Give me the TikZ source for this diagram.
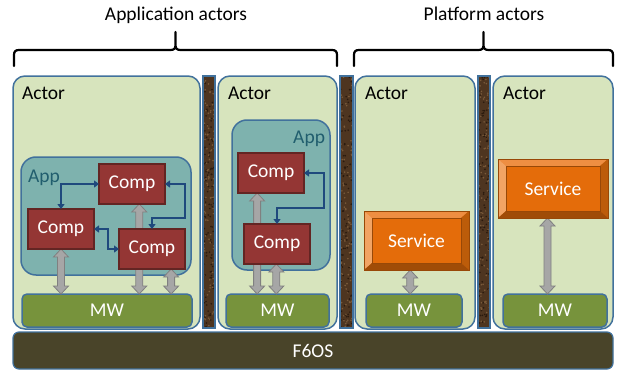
\documentclass[tikz,border=0pt]{standalone}
\usepackage{fontspec}
\setmainfont{Carlito}
\usetikzlibrary{calc,arrows.meta}
\pgfdeclarelayer{bg}
\pgfdeclarelayer{ar}
\pgfsetlayers{bg,ar,main}
\definecolor{actorfill}{HTML}{D7E4BD}
\definecolor{boxline}{HTML}{41719C}
\definecolor{appfill}{HTML}{7EB2AE}
\definecolor{applabel}{HTML}{215E6E}
\definecolor{compfill}{HTML}{943634}
\definecolor{compline}{HTML}{632523}
\definecolor{mwfill}{HTML}{77933C}
\definecolor{osfill}{HTML}{494429}
\definecolor{garrowfill}{HTML}{A6A6A6}
\definecolor{garrowline}{HTML}{808080}
\definecolor{bconn}{HTML}{1F497D}
\definecolor{sepfill}{HTML}{4E3520}
\definecolor{sepdotA}{HTML}{7A5A3A}
\definecolor{sepdotB}{HTML}{2A1A0E}
\definecolor{svcmid}{HTML}{E46C0A}
\definecolor{svctop}{HTML}{EE8E42}
\definecolor{svcleft}{HTML}{F2A464}
\definecolor{svcright}{HTML}{BC5C0A}
\definecolor{svcbot}{HTML}{A04C07}
\definecolor{svcline}{HTML}{984807}
\newcommand\grayarrow[2]{%
  \path[garrow] let \p1=#1, \p2=#2 in
  (\x1,\y1) -- (\x1+7.5pt,\y1-8pt) -- (\x1+3.5pt,\y1-8pt) -- (\x1+3.5pt,\y2+8pt)
  -- (\x1+7.5pt,\y2+8pt) -- (\x1,\y2) -- (\x1-7.5pt,\y2+8pt) -- (\x1-3.5pt,\y2+8pt)
  -- (\x1-3.5pt,\y1-8pt) -- (\x1-7.5pt,\y1-8pt) -- cycle;}
\newcommand\bracketline[3]{%
  \draw[bracketstyle] (#1,66) -- (#1,55) .. controls (#1,51.5) and ({#1+1.5},50) .. ({#1+5},50)
  -- ({#3-5},50) .. controls ({#3-1.5},50) and (#3,48.5) .. (#3,45) -- (#3,32)
  (#3,45) .. controls (#3,48.5) and ({#3+1.5},50) .. ({#3+5},50)
  -- ({#2-5},50) .. controls ({#2-1.5},50) and (#2,51.5) .. (#2,55) -- (#2,66);}
\begin{document}
\begin{tikzpicture}[x=1pt,y=-1pt,
  font=\fontsize{19.5}{22}\selectfont,
  box/.style={inner sep=0pt, outer sep=0pt},
  actorbox/.style={box, draw=boxline, line width=1.5pt, fill=actorfill, rounded corners=12pt, minimum height=253pt},
  appbox/.style={box, draw=boxline, line width=1.5pt, fill=appfill, rounded corners=15pt},
  mwbox/.style={box, draw=boxline, line width=1.5pt, fill=mwfill, rounded corners=5pt, minimum height=33pt, text=white},
  osbox/.style={box, draw=boxline, line width=1.2pt, fill=osfill, rounded corners=6pt, text=white},
  compbox/.style={box, draw=compline, line width=1.5pt, fill=compfill, minimum width=66pt, minimum height=40pt, text=white},
  sepbox/.style={box, fill=sepfill, minimum height=252pt},
  sepline/.style={draw=boxline, line width=1.5pt},
  garrow/.style={fill=garrowfill, draw=garrowline, line width=0.8pt, line join=miter},
  bline/.style={draw=bconn, line width=1.6pt, {Triangle[length=5pt,width=7pt]}-{Triangle[length=5pt,width=7pt]}},
  bracketstyle/.style={draw=black, line width=2.2pt, line cap=round, line join=round},
  label/.style={inner sep=0pt, outer sep=0pt},
  svcbox/.style={box, draw=svcline, line width=1pt, fill=svcmid, text=white, minimum height=59pt,
    path picture={
      \fill[svctop] (path picture bounding box.north west) -- (path picture bounding box.north east)
        -- ([shift={(-8pt,-7pt)}]path picture bounding box.north east) -- ([shift={(8pt,-7pt)}]path picture bounding box.north west) -- cycle;
      \fill[svcleft] (path picture bounding box.north west) -- (path picture bounding box.south west)
        -- ([shift={(8pt,7pt)}]path picture bounding box.south west) -- ([shift={(8pt,-7pt)}]path picture bounding box.north west) -- cycle;
      \fill[svcright] (path picture bounding box.north east) -- (path picture bounding box.south east)
        -- ([shift={(-8pt,7pt)}]path picture bounding box.south east) -- ([shift={(-8pt,-7pt)}]path picture bounding box.north east) -- cycle;
      \fill[svcbot] (path picture bounding box.south west) -- (path picture bounding box.south east)
        -- ([shift={(-8pt,7pt)}]path picture bounding box.south east) -- ([shift={(8pt,7pt)}]path picture bounding box.south west) -- cycle;
      \draw[svcline, line width=0.6pt] ([shift={(8pt,-7pt)}]path picture bounding box.north west) rectangle ([shift={(-8pt,7pt)}]path picture bounding box.south east);
    }}
]
\useasboundingbox (0,0) rectangle (619,372);

% titles and brackets
\node[label, anchor=base] (title1) at (176,20) {Application actors};
\node[label, anchor=base] (title2) at (484,20) {Platform actors};
\bracketline{14}{337}{175.5}
\bracketline{354}{613}{483.5}

\begin{pgfonlayer}{bg}
  % actors
  \node[actorbox, minimum width=187pt] (actor1) at (106.5,202.5) {};
  \node[actorbox, minimum width=119pt] (actor2) at (277.5,202.5) {};
  \node[actorbox, minimum width=120pt] (actor3) at (415,202.5) {};
  \node[actorbox, minimum width=120pt] (actor4) at (553,202.5) {};
  \node[label, anchor=base west] (al1) at (22,99) {Actor};
  \node[label, anchor=base west] (al2) at (228,99) {Actor};
  \node[label, anchor=base west] (al3) at (365,99) {Actor};
  \node[label, anchor=base west] (al4) at (503,99) {Actor};
  % separators
  \pgfmathsetseed{42}
  \foreach \sx/\sw [count=\si] in {203/12,340/13,478/12} {
    \node[sepbox, minimum width=\sw pt] (sep\si) at ({\sx+\sw/2},202) {};
    \begin{scope}
      \clip (sep\si.south west) rectangle (sep\si.north east);
      \foreach \k in {1,...,110} {
        \fill[sepdotA] ({\sx+\sw*rnd},{76+252*rnd}) circle (0.9);
        \fill[sepdotB] ({\sx+\sw*rnd},{76+252*rnd}) circle (0.9);
      }
    \end{scope}
    \draw[sepline] (sep\si.south west) rectangle (sep\si.north east);
  }
  % OS
  \node[osbox, minimum width=600pt, minimum height=37pt] (os) at (313,350.5) {F6OS};
  % middleware
  \node[mwbox, minimum width=170pt] (mw1) at (107,310.5) {MW};
  \node[mwbox, minimum width=103pt] (mw2) at (277.5,310.5) {MW};
  \node[mwbox, minimum width=96pt] (mw3) at (414,310.5) {MW};
  \node[mwbox, minimum width=104pt] (mw4) at (555,310.5) {MW};
  % apps
  \node[appbox, minimum width=170pt, minimum height=118pt] (app1) at (106,216) {};
  \node[appbox, minimum width=98pt, minimum height=150pt] (app2) at (281,195) {};
  \node[label, anchor=base west, text=applabel] (applbl1) at (28,182) {App};
  \node[label, anchor=base east, text=applabel] (applbl2) at (325,143) {App};
\end{pgfonlayer}

% components
\node[compbox] (compA) at (132,184) {Comp};
\node[compbox] (compB) at (61,229) {Comp};
\node[compbox] (compC) at (152,249) {Comp};
\node[compbox] (compD) at (271,173) {Comp};
\node[compbox] (compE) at (277,244) {Comp};
% services
\node[svcbox, minimum width=105pt] (svc1) at (416.5,240.5) {Service};
\node[svcbox, minimum width=110pt] (svc2) at (553,188.5) {Service};

% grey double arrows
\begin{pgfonlayer}{ar}
  \grayarrow{(compB.south)}{(mw1.north)}
  \grayarrow{($(compA.south west)!0.61!(compA.south east)$)}{(mw1.north)}
  \grayarrow{($(compC.south west)!0.79!(compC.south east)$)}{(mw1.north)}
  \grayarrow{($(compD.south west)!0.29!(compD.south east)$)}{(mw2.north)}
  \grayarrow{($(compE.south west)!0.49!(compE.south east)$)}{(mw2.north)}
  \grayarrow{($(svc1.south west)!0.44!(svc1.south east)$)}{(mw3.north)}
  \grayarrow{($(svc2.south west)!0.45!(svc2.south east)$)}{(mw4.north)}
\end{pgfonlayer}

% blue connectors
\draw[bline] (compA.west) -| (compB.north);
\draw[bline] (compA.east) -- ++(20,0) |- ($(compC.north)+(0,-11)$) -- (compC.north);
\draw[bline] (compB.east) -- ++(14,0) |- (compC.west);
\draw[bline] (compD.east) -- ++(20,0) |- ($(compE.north)+(0,-16)$) -- (compE.north);
\end{tikzpicture}
\end{document}
